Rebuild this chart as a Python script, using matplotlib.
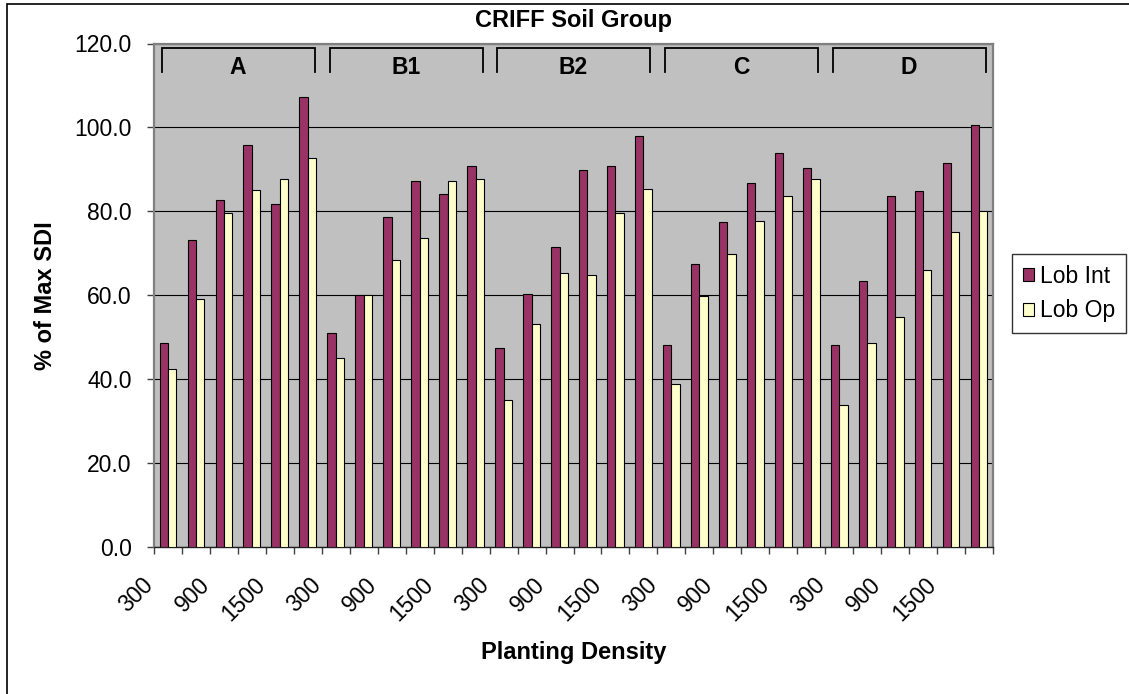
import matplotlib
matplotlib.use("Agg")
import matplotlib.pyplot as plt
from matplotlib.patches import Patch, Rectangle
from matplotlib.ticker import FixedLocator, NullFormatter
import matplotlib.transforms as mtransforms

plt.rcParams['font.family'] = ['Liberation Sans', 'DejaVu Sans']

# ---- data ----
groups = ['A', 'B1', 'B2', 'C', 'D']
densities = [300, 600, 900, 1200, 1500, 1800]
lob_int = [48.6, 73.2, 82.7, 95.7, 81.8, 107.3,
           50.9, 60.0, 78.7, 87.1, 84.1, 90.8,
           47.3, 60.3, 71.5, 89.8, 90.8, 97.9,
           48.2, 67.5, 77.4, 86.7, 93.8, 90.3,
           48.2, 63.4, 83.6, 84.9, 91.6, 100.5]
lob_op = [42.4, 59.0, 79.5, 85.0, 87.7, 92.6,
          45.1, 60.0, 68.3, 73.7, 87.2, 87.7,
          35.1, 53.1, 65.3, 64.8, 79.6, 85.4,
          38.9, 59.9, 69.8, 77.7, 83.6, 87.6,
          33.9, 48.7, 54.9, 66.1, 75.1, 80.0]
series_names = ['Lob Int', 'Lob Op']
y_ticks = [0, 20, 40, 60, 80, 100, 120]

c_int = '#993366'
c_op = '#FFFFCC'

W, H = 1129, 694
DPI = 100
fig = plt.figure(figsize=(W / DPI, H / DPI), dpi=DPI)
fig.patch.set_facecolor('white')

# figure border (left & top visible)
fig.patches.append(Rectangle((7 / W, -0.05), 1.2, 1 - 3.5 / H + 0.05,
                             transform=fig.transFigure, fill=False,
                             edgecolor='black', linewidth=1.2, zorder=0))

L, R, T, B = 154, 993, 43.5, 546.8
ax = fig.add_axes([L / W, 1 - B / H, (R - L) / W, (B - T) / H])
ax.set_facecolor('#C0C0C0')

n_per = len(densities)
n = len(groups) * n_per
centers = [k + 0.5 for k in range(n)]
bw = 0.3
ax.bar([c - bw / 2 for c in centers], lob_int, width=bw, color=c_int,
       edgecolor='black', linewidth=0.8, zorder=3)
ax.bar([c + bw / 2 for c in centers], lob_op, width=bw, color=c_op,
       edgecolor='black', linewidth=0.8, zorder=3)

ax.set_xlim(0, n)
ax.set_ylim(0, 120)

# gridlines
ax.set_yticks(y_ticks)
ax.set_yticklabels([f'{v:.1f}' for v in y_ticks])
ax.yaxis.grid(True, color='black', linewidth=0.8, zorder=1)
ax.set_axisbelow(True)

# x ticks: major at category boundaries, labels at every other category center
ax.xaxis.set_major_locator(FixedLocator(list(range(n + 1))))
ax.xaxis.set_major_formatter(NullFormatter())
lab_pos = [centers[k] for k in range(n) if k % 2 == 0]
lab_txt = [str(densities[k % n_per]) for k in range(n) if k % 2 == 0]
ax.xaxis.set_minor_locator(FixedLocator(lab_pos))
ax.set_xticklabels(lab_txt, minor=True)
ax.tick_params(axis='x', which='major', length=5, width=1, color='#404040',
               direction='out')
ax.tick_params(axis='x', which='minor', length=0, pad=25, labelsize=16.5)
for lbl in ax.get_xticklabels(minor=True):
    lbl.set_rotation(45)
    lbl.set_ha('right')
    lbl.set_va('center')
    lbl.set_rotation_mode('anchor')
    lbl.set_transform(lbl.get_transform() +
                      mtransforms.ScaledTranslation(-18 / DPI, 0, fig.dpi_scale_trans))

ax.tick_params(axis='y', length=5, width=1, color='#404040', pad=11,
               labelsize=16.5, direction='out')

for s in ['top', 'right', 'left']:
    ax.spines[s].set_color('#808080')
    ax.spines[s].set_linewidth(1.6)
ax.spines['bottom'].set_color('#202020')
ax.spines['bottom'].set_linewidth(1.0)

# group brackets
y_top, y_bot = 118.9, 113.3
for g, name in enumerate(groups):
    x0 = g * n_per + 0.28
    x1 = (g + 1) * n_per - 0.25
    ax.plot([x0, x0, x1, x1], [y_bot, y_top, y_top, y_bot], color='black',
            linewidth=1.3, zorder=4, solid_joinstyle='miter')
    ax.text(g * n_per + n_per / 2, 114.3, name, ha='center', va='center',
            fontsize=16.5, fontweight='bold', zorder=5)

# titles
fig.text((L + R) / 2 / W, 1 - 20 / H, 'CRIFF Soil Group', ha='center',
         va='center', fontsize=17, fontweight='bold')
fig.text((L + R) / 2 / W, 1 - 653 / H, 'Planting Density', ha='center',
         va='center', fontsize=17, fontweight='bold')
fig.text(46 / W, 1 - ((T + B) / 2) / H, '% of Max SDI', ha='center',
         va='center', rotation=90, fontsize=17, fontweight='bold')

# legend
handles = [Patch(facecolor=c_int, edgecolor='black', linewidth=0.8),
           Patch(facecolor=c_op, edgecolor='black', linewidth=0.8)]
leg = fig.legend(handles, series_names, loc='center',
                 bbox_to_anchor=(1069 / W, 1 - 293.5 / H),
                 fontsize=16.5, frameon=True, fancybox=False,
                 handlelength=0.5, handleheight=0.5, handletextpad=0.25,
                 labelspacing=0.5, borderpad=0.45, borderaxespad=0)
leg.get_frame().set_edgecolor('black')
leg.get_frame().set_linewidth(1.0)

fig.savefig('out.png', dpi=DPI)
